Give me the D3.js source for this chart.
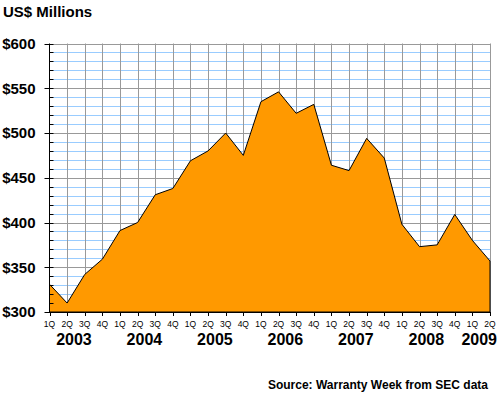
<!DOCTYPE html>
<html>
<head>
<meta charset="utf-8">
<script src="https://cdn.jsdelivr.net/npm/d3@7"></script>
<style>
  body { margin: 0; background: #fff; }
  svg { display: block; font-family: "Liberation Sans", Arial, sans-serif; }
</style>
</head>
<body>
<div id="chart"></div>
<script>
// Quarterly warranty figures, 1Q 2003 to 2Q 2009 (US$ millions)
var quarters = ["1Q","2Q","3Q","4Q","1Q","2Q","3Q","4Q","1Q","2Q","3Q","4Q","1Q","2Q","3Q","4Q",
                "1Q","2Q","3Q","4Q","1Q","2Q","3Q","4Q","1Q","2Q"];
var values = [331, 310, 342, 359, 391, 400, 431, 438, 469, 480, 500, 475, 535, 546, 522, 532,
              464, 458, 494, 472, 398, 373, 375, 409, 380, 357];
var years = ["2003", "2004", "2005", "2006", "2007", "2008", "2009"];
var yTicks = [300, 350, 400, 450, 500, 550, 600];

var width = 500, height = 396;

// plot box (note: "top" is taken by window.top, so prefix these)
var plotLeft = 49.5, plotRight = 490, plotTop = 43.5, plotBottom = 312;

var svg = d3.select("#chart").append("svg")
  .attr("width", width)
  .attr("height", height);

var x = d3.scaleLinear().domain([0, quarters.length - 1]).range([plotLeft, plotRight]);
var y = d3.scaleLinear().domain([300, 600]).range([plotBottom, plotTop]);

function crisp(v) { return Math.round(v) + 0.5; }

// minor horizontal grid every $10
var minor = d3.range(310, 600, 10).filter(function(v) { return v % 50 !== 0; });
svg.append("g").selectAll("line")
  .data(minor)
  .enter().append("line")
  .attr("x1", plotLeft).attr("x2", plotRight)
  .attr("y1", function(d) { return crisp(y(d)); })
  .attr("y2", function(d) { return crisp(y(d)); })
  .attr("stroke", "#99ccff");

// major horizontal grid every $50
svg.append("g").selectAll("line")
  .data(yTicks.slice(1))
  .enter().append("line")
  .attr("x1", plotLeft).attr("x2", plotRight)
  .attr("y1", function(d) { return crisp(y(d)); })
  .attr("y2", function(d) { return crisp(y(d)); })
  .attr("stroke", "#999999");

// vertical grid, one per quarter
svg.append("g").selectAll("line")
  .data(d3.range(1, quarters.length))
  .enter().append("line")
  .attr("x1", function(d) { return crisp(x(d)); })
  .attr("x2", function(d) { return crisp(x(d)); })
  .attr("y1", plotTop).attr("y2", plotBottom)
  .attr("stroke", "#999999");

// the area itself
var area = d3.area()
  .x(function(d, i) { return x(i); })
  .y0(y(300))
  .y1(function(d) { return y(d); });

svg.append("path")
  .datum(values)
  .attr("d", area)
  .attr("fill", "#ff9900")
  .attr("stroke", "#000")
  .attr("stroke-width", 1);

// y axis with $50 labels and $10 minor ticks
var yAxis = svg.append("g")
  .attr("transform", "translate(" + plotLeft + ",0)");

yAxis.append("line")
  .attr("x1", 0).attr("x2", 0)
  .attr("y1", plotTop).attr("y2", plotBottom)
  .attr("stroke", "#000");

yAxis.selectAll(".minorTick")
  .data(minor)
  .enter().append("line")
  .attr("class", "minorTick")
  .attr("x1", 0).attr("x2", 4)
  .attr("y1", function(d) { return crisp(y(d)); })
  .attr("y2", function(d) { return crisp(y(d)); })
  .attr("stroke", "#000");

yAxis.selectAll(".majorTick")
  .data(yTicks)
  .enter().append("line")
  .attr("class", "majorTick")
  .attr("x1", -5).attr("x2", 4)
  .attr("y1", function(d) { return crisp(y(d)); })
  .attr("y2", function(d) { return crisp(y(d)); })
  .attr("stroke", "#000");

yAxis.selectAll("text")
  .data(yTicks)
  .enter().append("text")
  .attr("x", -14)
  .attr("y", function(d) { return y(d); })
  .attr("dy", "0.36em")
  .attr("text-anchor", "end")
  .attr("font-size", "15px")
  .attr("font-weight", "bold")
  .text(function(d) { return "$" + d; });

// x axis: quarter ticks and labels
var xAxis = svg.append("g")
  .attr("transform", "translate(0," + plotBottom + ")");

xAxis.append("line")
  .attr("x1", plotLeft).attr("x2", plotRight)
  .attr("y1", 0.5).attr("y2", 0.5)
  .attr("stroke", "#000");

xAxis.selectAll("line.tick")
  .data(quarters)
  .enter().append("line")
  .attr("class", "tick")
  .attr("x1", function(d, i) { return crisp(x(i)); })
  .attr("x2", function(d, i) { return crisp(x(i)); })
  .attr("y1", 0).attr("y2", 4)
  .attr("stroke", "#000");

xAxis.selectAll("text")
  .data(quarters)
  .enter().append("text")
  .attr("x", function(d, i) { return x(i); })
  .attr("y", 15)
  .attr("text-anchor", "middle")
  .attr("font-size", "8.5px")
  .text(function(d) { return d; });

// year labels centred under their quarters
svg.append("g").selectAll("text")
  .data(years)
  .enter().append("text")
  .attr("x", function(d, i) {
    var first = i * 4, last = Math.min(i * 4 + 3, quarters.length - 1);
    return (x(first) + x(last)) / 2 - 2;
  })
  .attr("y", 345)
  .attr("text-anchor", "middle")
  .attr("font-size", "16px")
  .attr("font-weight", "bold")
  .text(function(d) { return d; });

// title and source
svg.append("text")
  .attr("x", 3).attr("y", 17)
  .attr("font-size", "15px")
  .attr("font-weight", "bold")
  .text("US$ Millions");

svg.append("text")
  .attr("x", 488).attr("y", 389)
  .attr("text-anchor", "end")
  .attr("font-size", "12px")
  .attr("font-weight", "bold")
  .text("Source: Warranty Week from SEC data");
</script>
</body>
</html>
